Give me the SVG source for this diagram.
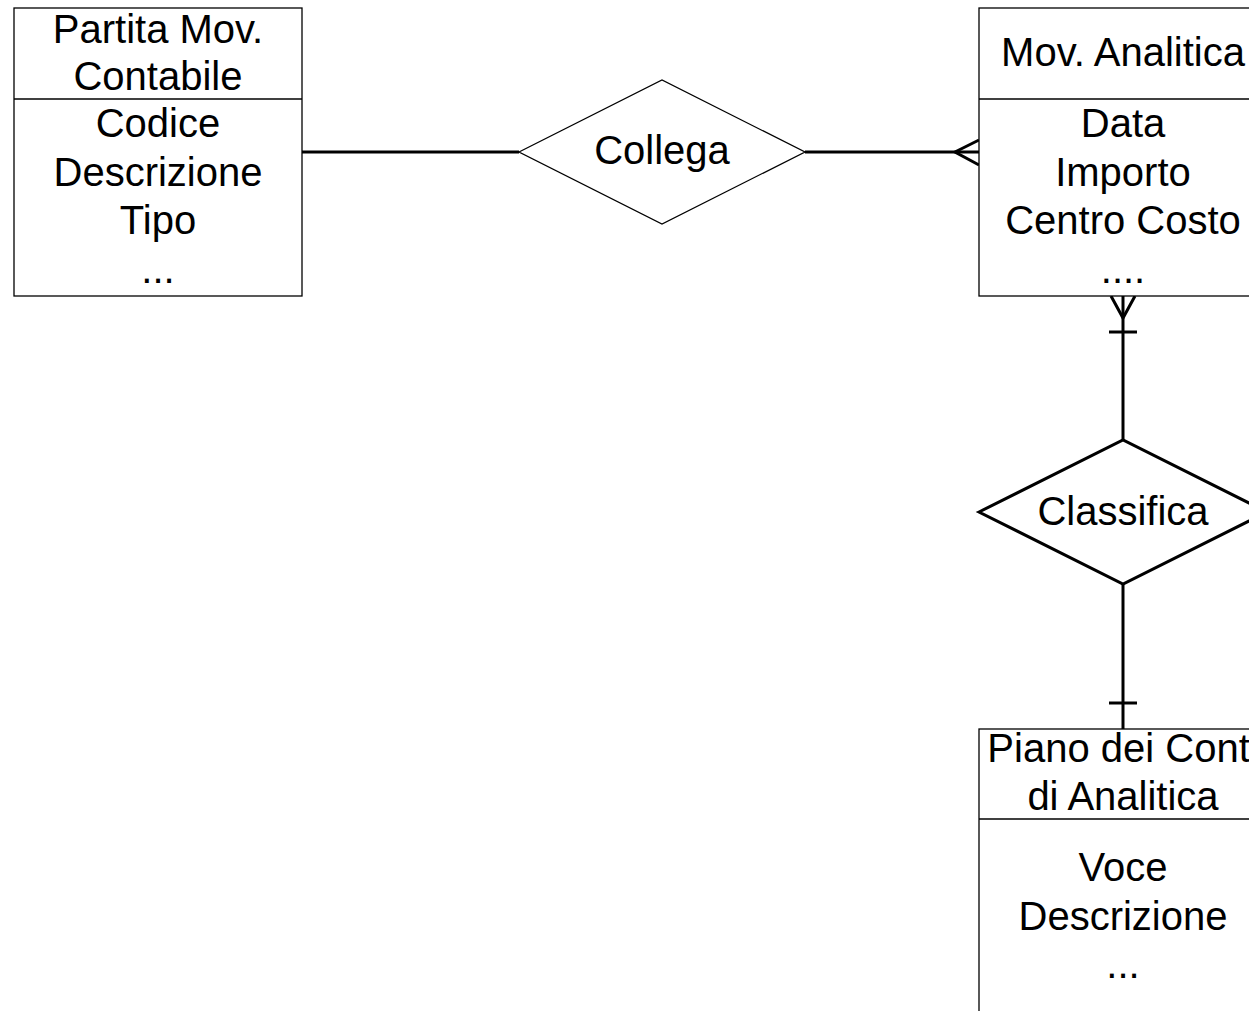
<svg xmlns="http://www.w3.org/2000/svg" width="1249" height="1011" viewBox="0 0 1249 1011">
  <style>
    .box { fill: #fff; stroke: #000; stroke-width: 1.3; }
    .rel { fill: #fff; stroke: #000; stroke-width: 1.3; }
    .relb { fill: #fff; stroke: #000; stroke-width: 3; }
    .link { fill: none; stroke: #000; stroke-width: 3; }
    text { font-family: "Liberation Sans", Arial, sans-serif; font-size: 40px; fill: #000; text-anchor: middle; }
  </style>
  <rect width="1249" height="1011" fill="#fff"/>

  <!-- connectors -->
  <g id="connectors">
    <line class="link" x1="302" y1="152" x2="519" y2="152"/>
    <line class="link" x1="805" y1="152" x2="979" y2="152"/>
    <polyline class="link" points="979,140 955,152 979,165"/>
    <line class="link" x1="1123" y1="296" x2="1123" y2="440"/>
    <polyline class="link" points="1111,296 1123,318 1135,296"/>
    <line class="link" x1="1109" y1="332" x2="1137" y2="332"/>
    <line class="link" x1="1123" y1="584" x2="1123" y2="729"/>
    <line class="link" x1="1109" y1="703" x2="1137" y2="703"/>
  </g>

  <!-- entity: Partita Mov. Contabile -->
  <g id="partita-mov-contabile">
    <rect class="box" x="14" y="8" width="288" height="288"/>
    <line class="box" x1="14" y1="99" x2="302" y2="99"/>
    <text x="158" y="43">Partita Mov.</text>
    <text x="158" y="90">Contabile</text>
    <text x="158" y="137">Codice</text>
    <text x="158" y="186">Descrizione</text>
    <text x="158" y="234">Tipo</text>
    <text x="158" y="283">...</text>
  </g>

  <!-- relationship: Collega -->
  <g id="collega">
    <polygon class="rel" points="519,152 662,80 805,152 662,224"/>
    <text x="662" y="164">Collega</text>
  </g>

  <!-- entity: Mov. Analitica -->
  <g id="mov-analitica">
    <rect class="box" x="979" y="8" width="300" height="288"/>
    <line class="box" x1="979" y1="99" x2="1279" y2="99"/>
    <text x="1123" y="66">Mov. Analitica</text>
    <text x="1123" y="137">Data</text>
    <text x="1123" y="186">Importo</text>
    <text x="1123" y="234">Centro Costo</text>
    <text x="1123" y="283">....</text>
  </g>

  <!-- relationship: Classifica -->
  <g id="classifica">
    <polygon class="relb" points="979,512 1123,440 1267,512 1123,584"/>
    <text x="1123" y="525">Classifica</text>
  </g>

  <!-- entity: Piano dei Conti di Analitica -->
  <g id="piano-dei-conti">
    <rect class="box" x="979" y="729" width="300" height="320"/>
    <line class="box" x1="979" y1="819" x2="1279" y2="819"/>
    <text x="1123" y="762">Piano dei Conti</text>
    <text x="1123" y="810">di Analitica</text>
    <text x="1123" y="881">Voce</text>
    <text x="1123" y="930">Descrizione</text>
    <text x="1123" y="978">...</text>
  </g>
</svg>
